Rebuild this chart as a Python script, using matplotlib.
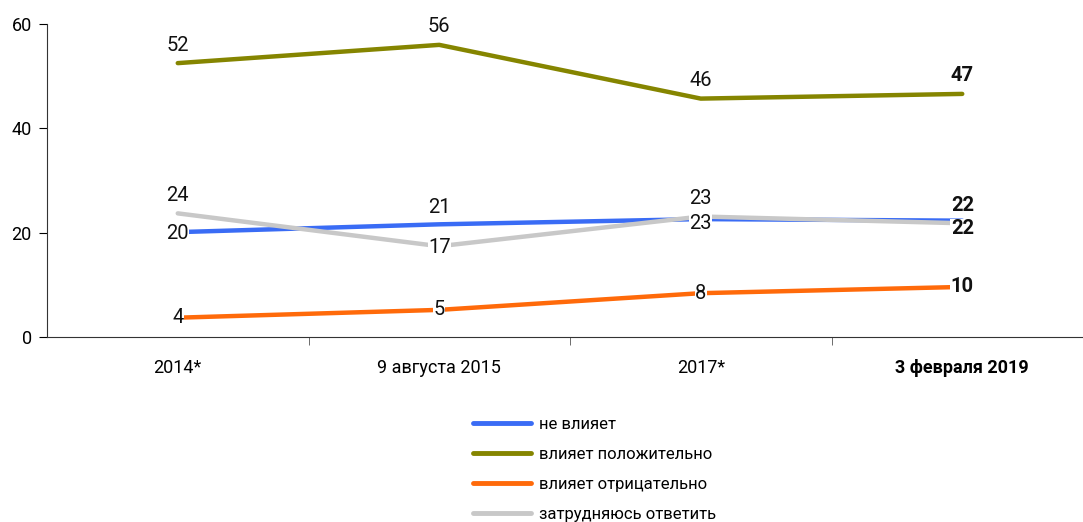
import matplotlib
matplotlib.use("Agg")
import matplotlib.pyplot as plt
from matplotlib.ticker import FixedLocator

plt.rcParams['font.family'] = ['Roboto', 'DejaVu Sans']

categories = ["2014*", "9 августа 2015", "2017*", "3 февраля 2019"]
series_names = ["не влияет", "влияет положительно", "влияет отрицательно", "затрудняюсь ответить"]
ne_vliyaet = [20.1, 21.6, 22.6, 22.3]
polozhitelno = [52.5, 56.0, 45.7, 46.6]
otritsatelno = [3.7, 5.2, 8.4, 9.6]
zatrudnyayus = [23.7, 17.4, 23.1, 21.8]
labels_ne = ["20", "21", "23", "22"]
labels_pol = ["52", "56", "46", "47"]
labels_otr = ["4", "5", "8", "10"]
labels_zat = ["24", "17", "23", "22"]
colors = ["#3a6cf5", "#858500", "#ff6a0a", "#c8c8c8"]

fig = plt.figure(figsize=(10.83, 5.22), dpi=100)
ax = fig.add_axes([47/1083, 185/522, 1036/1083, 313/522])
x = list(range(len(categories)))

data = [ne_vliyaet, polozhitelno, otritsatelno, zatrudnyayus]
for vals, c, n in zip(data, colors, series_names):
    ax.plot(x, vals, color=c, lw=3.2, solid_capstyle='round', label=n, zorder=2)

ax.set_xlim(-0.5, -0.5 + 1036/261.5)
ax.set_ylim(0, 60)
ax.set_yticks([0, 20, 40, 60])
ax.tick_params(axis='y', labelsize=13, length=6, direction='out', pad=5)
ax.set_xticks(x)
ax.set_xticklabels(categories, fontsize=13)
ax.tick_params(axis='x', which='major', length=0, pad=16)
ax.xaxis.set_minor_locator(FixedLocator([0.5, 1.5, 2.5]))
ax.tick_params(axis='x', which='minor', length=6, direction='out', color='#555555')
ax.get_xticklabels()[-1].set_fontweight('bold')
for s in ['top', 'right']:
    ax.spines[s].set_visible(False)
for s in ['left', 'bottom']:
    ax.spines[s].set_color('#333333')

def lab(i, v, txt, dy, dx=0):
    bold = (i == 3)
    ax.annotate(txt, (i, v), xytext=(dx, dy), textcoords='offset points',
                ha='center', va='center', fontsize=14.5,
                fontweight='bold' if bold else 'normal', color='#111111', zorder=5,
                bbox=dict(facecolor='white', edgecolor='none', pad=0.3, alpha=1.0))

# olive above
for i, (v, t) in enumerate(zip(polozhitelno, labels_pol)):
    lab(i, v, t, 13)
# blue
lab(0, ne_vliyaet[0], labels_ne[0], -1)
lab(1, ne_vliyaet[1], labels_ne[1], 12)
lab(2, ne_vliyaet[2], labels_ne[2], -3)
lab(3, ne_vliyaet[3], labels_ne[3], 11)
# gray
lab(0, zatrudnyayus[0], labels_zat[0], 13)
lab(1, zatrudnyayus[1], labels_zat[1], -1)
lab(2, zatrudnyayus[2], labels_zat[2], 13)
lab(3, zatrudnyayus[3], labels_zat[3], -4)
# orange
for i, (v, t) in enumerate(zip(otritsatelno, labels_otr)):
    lab(i, v, t, 0)

leg = fig.legend(loc='upper left', bbox_to_anchor=(458/1083, 1 - 402/522), frameon=False,
                 fontsize=12, handlelength=3.5, handletextpad=0.45, labelspacing=0.9)
for h in leg.get_lines():
    h.set_linewidth(3.5)

fig.savefig("out.png", dpi=100)
